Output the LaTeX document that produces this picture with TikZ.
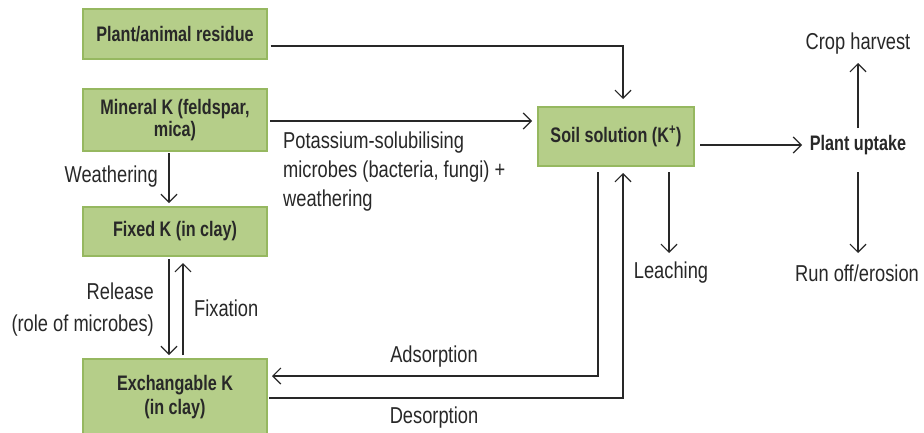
\documentclass[tikz,border=0pt]{standalone}
\usepackage{fontspec}
\setmainfont{Liberation Sans}[FakeStretch=0.795]
\newfontfamily\bxfont{Liberation Sans}[FakeStretch=0.77]
\usetikzlibrary{arrows.meta}
\definecolor{boxfill}{RGB}{181,206,137}
\definecolor{boxline}{RGB}{150,184,96}
\definecolor{ink}{RGB}{40,40,40}
\tikzset{
  kbox/.style={rectangle, draw=boxline, line width=1.2pt, fill=boxfill, inner sep=0pt,
    align=center, text=ink, font=\bxfont\bfseries\fontsize{21}{22}\selectfont},
  lab/.style={text=ink, inner sep=0pt, font=\fontsize{23}{29}\selectfont},
  blab/.style={text=ink, inner sep=0pt, font=\bxfont\bfseries\fontsize{21}{22}\selectfont},
  conn/.style={draw=ink, line width=1.2pt},
  arr/.style={conn, -{Straight Barb[length=8pt,width=16pt,line width=1.2pt]}}
}
\begin{document}
\begin{tikzpicture}[x=1pt,y=-1pt]
\useasboundingbox (0,0) rectangle (924,432);
\clip (0,0) rectangle (924,432);
\fill[white] (0,0) rectangle (924,432);

% boxes
\node[kbox, minimum width=184pt, minimum height=50pt] (residue) at (175,34) {Plant/animal residue};
\node[kbox, minimum width=184pt, minimum height=62pt] (mineral) at (175,120) {Mineral K (feldspar,\\mica)};
\node[kbox, minimum width=184pt, minimum height=49pt] (fixed) at (175,231.5) {Fixed K (in clay)};
\node[kbox, minimum width=184pt, minimum height=76pt, font=\bxfont\bfseries\fontsize{21}{24}\selectfont] (exch) at (175,397) {Exchangable K\\(in clay)};
\node[kbox, minimum width=156pt, minimum height=59pt] (soil) at (616,136.5) {Soil solution (K\textsuperscript{+})};

% outer labels
\node[blab] (uptake) at (858,145) {Plant uptake};
\node[lab] (crop) at (858,44) {Crop harvest};
\node[lab] (runoff) at (857,273) {Run off/erosion};
\node[lab] (leach) at (671,273) {Leaching};
\node[lab, anchor=east] (weath) at (158,177) {Weathering};
\node[lab, anchor=north west, align=left] (psm) at (283,132) {Potassium-solubilising\\microbes (bacteria, fungi) +\\weathering};
\node[lab, anchor=east, align=right, font=\fontsize{23}{32}\selectfont] (release) at (154,309.5) {Release\\(role of microbes)};
\node[lab, anchor=west] (fixation) at (194,308) {Fixation};
\node[lab] (adsorb) at (434,357) {Adsorption};
\node[lab] (desorb) at (434,418) {Desorption};

% connector end points
\coordinate (r0) at (residue.east |- 0,46);
\coordinate (r1) at (623,99);
\coordinate (m0) at (270,121);
\coordinate (m1) at (532,121);
\coordinate (w0) at (169,153);
\coordinate (w1) at (169,203);
\coordinate (rel0) at (169,259);
\coordinate (rel1) at (169,355);
\coordinate (fix0) at (183,355);
\coordinate (fix1) at (183,263);
\coordinate (ad0) at (598,172);
\coordinate (ad1) at (272,376);
\coordinate (de0) at (269,398);
\coordinate (de1) at (623,173);
\coordinate (le0) at (669,172);
\coordinate (le1) at (669,253);
\coordinate (up0) at (700,145);
\coordinate (up1) at (802,145);
\coordinate (cr0) at (858,128);
\coordinate (cr1) at (858,63);
\coordinate (ro0) at (858,172);
\coordinate (ro1) at (858,253);

\draw[arr] ([xshift=3pt]r0) -| (r1);
\draw[arr] (m0) -- (m1);
\draw[arr] (w0) -- (w1);
\draw[arr] (rel0) -- (rel1);
\draw[arr] (fix0) -- (fix1);
\draw[arr] (ad0) |- (ad1);
\draw[arr] (de0) -| (de1);
\draw[arr] (le0) -- (le1);
\draw[arr] (up0) -- (up1);
\draw[arr] (cr0) -- (cr1);
\draw[arr] (ro0) -- (ro1);
\end{tikzpicture}
\end{document}
